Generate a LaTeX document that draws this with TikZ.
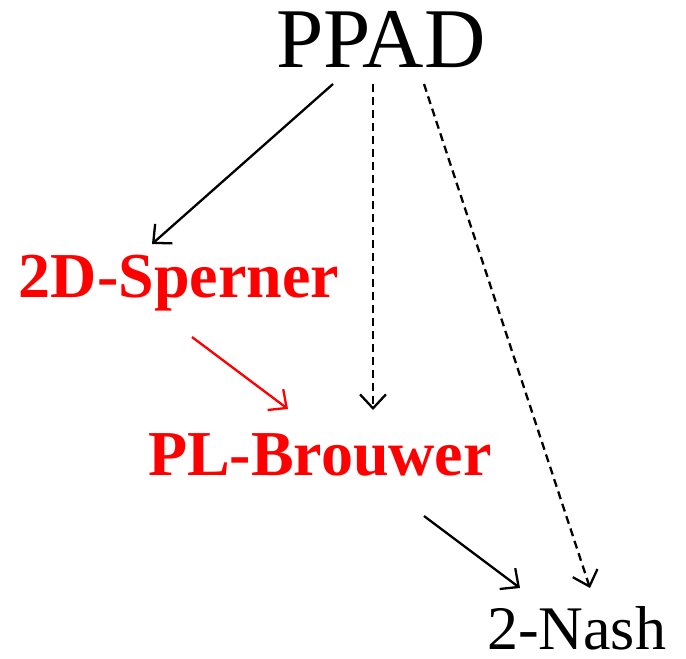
\documentclass[tikz,border=0pt]{standalone}
\usepackage{fontspec}
\setmainfont{Liberation Serif}
\usetikzlibrary{arrows.meta}
\begin{document}
\begin{tikzpicture}[x=1pt,y=-1pt,
  lbl/.style={anchor=base west,inner sep=0pt,outer sep=0pt},
  conn/.style={line width=2.3pt,-{Straight Barb[length=14pt,width=26pt,line width=2.3pt]}},
  dashconn/.style={conn,dash pattern=on 8pt off 5pt},
  redconn/.style={conn,red}]
  \useasboundingbox (0,0) rectangle (686,659);
  % labels
  \node[lbl,font=\fontsize{85}{90}\selectfont] (ppad) at (276,67) {PPAD};
  \node[lbl,font=\fontsize{64}{68}\selectfont\bfseries,text=red] (sperner) at (19,297) {2D-Sperner};
  \node[lbl,font=\fontsize{64}{68}\selectfont\bfseries,text=red] (brouwer) at (148,475) {PL-Brouwer};
  \node[lbl,font=\fontsize{62}{66}\selectfont] (nash) at (487,649) {2-Nash};
  % connector end points
  \coordinate (p1) at (333,84);
  \coordinate (p2) at (373,84);
  \coordinate (p3) at (424,84);
  \coordinate (s1) at (152,244);
  \coordinate (s2) at (192,337);
  \coordinate (b1) at (288,409);
  \coordinate (b2) at (373,410);
  \coordinate (b3) at (424,516);
  \coordinate (n1) at (520,588);
  \coordinate (n2) at (590,588);
  % connectors
  \draw[conn] (p1) -- (s1);
  \draw[dashconn] (p2) -- (b2);
  \draw[dashconn] (p3) -- (n2);
  \draw[redconn] (s2) -- (b1);
  \draw[conn] (b3) -- (n1);
\end{tikzpicture}
\end{document}
